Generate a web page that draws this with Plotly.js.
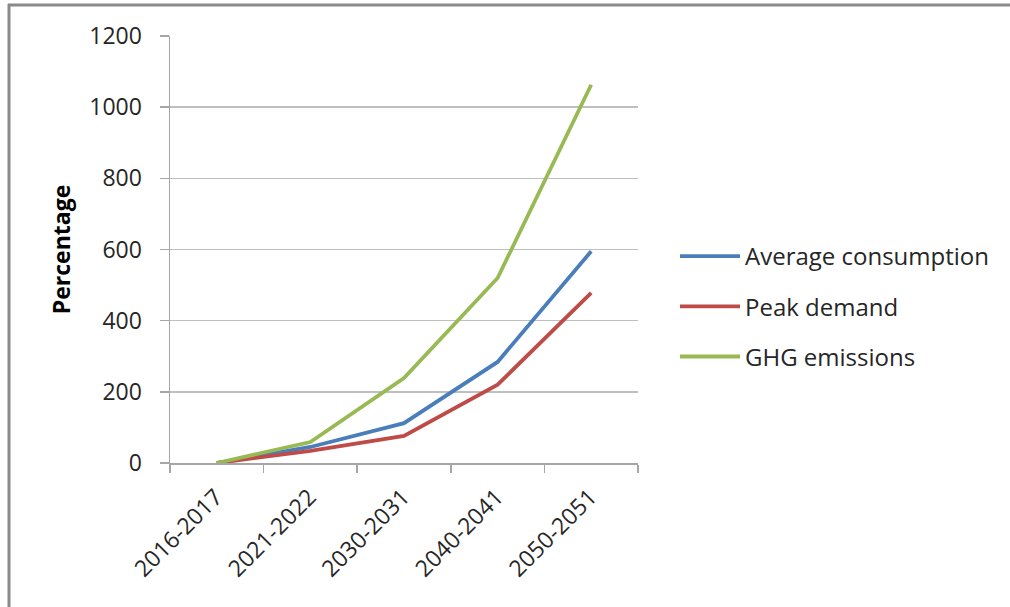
<!DOCTYPE html>
<html>
<head>
<meta charset="utf-8">
<script src="https://cdn.plot.ly/plotly-3.0.1.min.js"></script>
<style>
html,body{margin:0;padding:0;background:#fff;}
#chart{width:1010px;height:607px;}
</style>
</head>
<body>
<div id="chart"></div>
<script>
var periods = ["2016-2017", "2021-2022", "2030-2031", "2040-2041", "2050-2051"];
var averageConsumption = [0, 45, 112, 284, 595];
var peakDemand = [0, 34, 76, 220, 478];
var ghgEmissions = [0, 59, 239, 520, 1063];
var yTicks = [0, 200, 400, 600, 800, 1000, 1200];

var W = 1010, H = 607;
var L = 170, R = 372, T = 36, B = 144;
var pw = W - L - R, ph = H - T - B;
function px(x){ return (x - L) / pw; }
function py(y){ return (H - B - y) / ph; }

var font = "'Open Sans', Lato, sans-serif";

var traces = [
  {x: periods, y: averageConsumption, name: "Average consumption", type: "scatter", mode: "lines",
   legendgroup: "a", line: {color: "#4A7EBB", width: 3.8}},
  {x: periods, y: peakDemand, name: "Peak demand", type: "scatter", mode: "lines",
   legendgroup: "b", line: {color: "#BE4B48", width: 3.8}},
  {x: periods, y: ghgEmissions, name: "GHG emissions", type: "scatter", mode: "lines",
   legendgroup: "c", line: {color: "#98B954", width: 3.8}}
];

var layout = {
  width: W, height: H,
  margin: {l: L, r: R, t: T, b: B, pad: 0},
  paper_bgcolor: "#fff", plot_bgcolor: "#fff",
  font: {family: font, size: 23, color: "#262626"},
  showlegend: true,
  legend: {x: px(675), y: py(234), xanchor: "left", yanchor: "top",
           font: {family: font, size: 24, color: "#262626"},
           tracegroupgap: 16, itemwidth: 60, bgcolor: "rgba(0,0,0,0)"},
  xaxis: {
    type: "category", range: [-0.5, 4.5],
    tickson: "boundaries", ticks: "outside", ticklen: 8, tickcolor: "#a6a6a6", tickwidth: 1.5,
    showline: true, linecolor: "#a6a6a6", linewidth: 1.5,
    showgrid: false, tickangle: -45,
    ticklabelstandoff: 10, ticklabelshift: -1,
    tickfont: {family: font, size: 23, color: "#262626"}
  },
  yaxis: {
    range: [0, 1200], tickvals: yTicks, ticktext: yTicks.map(String),
    ticks: "outside", ticklen: 9, tickcolor: "#a6a6a6", tickwidth: 1.5,
    showline: true, linecolor: "#a6a6a6", linewidth: 1.5,
    showgrid: true, gridcolor: "#bfbfbf", gridwidth: 1.5,
    zeroline: false,
    tickfont: {family: font, size: 23, color: "#262626"},
    ticklabelstandoff: 13,
    title: {text: "<b>Percentage</b>", font: {family: font, size: 23, color: "#000"}, standoff: 12}
  },
  shapes: [
    {type: "line", xref: "paper", yref: "paper", x0: px(9), x1: px(9), y0: py(4), y1: py(620),
     line: {color: "#8a8a8a", width: 3}},
    {type: "line", xref: "paper", yref: "paper", x0: px(8), x1: px(1015), y0: py(5), y1: py(5),
     line: {color: "#8a8a8a", width: 3}}
  ]
};

Plotly.newPlot("chart", traces, layout, {displayModeBar: false, staticPlot: true});
</script>
</body>
</html>
